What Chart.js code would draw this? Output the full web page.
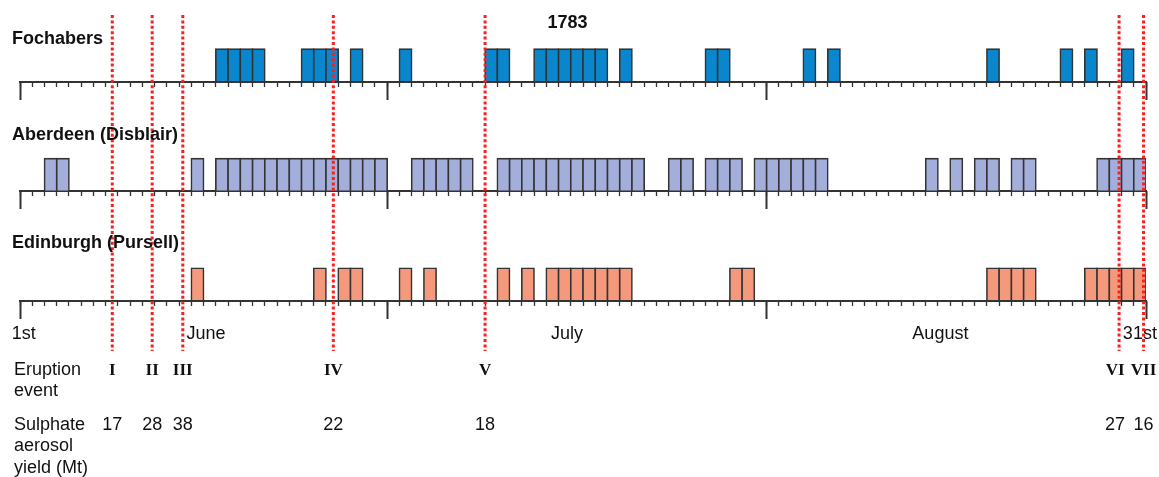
<!DOCTYPE html>
<html>
<head>
<meta charset="utf-8">
<script src="https://cdn.jsdelivr.net/npm/chart.js@4/dist/chart.umd.min.js"></script>
<style>
  html, body { margin: 0; padding: 0; background: #ffffff; }
  #wrap { position: relative; width: 1159px; height: 477px; }
  canvas { display: block; }
</style>
</head>
<body>
<div id="wrap"><canvas id="c" width="1159" height="477"></canvas></div>
<script>
// ---------------- data ----------------
const yearLabel = '1783';
const stations = ['Fochabers', 'Aberdeen (Disblair)', 'Edinburgh (Pursell)'];
const months = ['June', 'July', 'August'];
const monthLengths = [30, 31, 31];

// observed days (day of month) for each station
const fochabersJune   = [17, 18, 19, 20, 24, 25, 26, 28];
const fochabersJuly   = [2, 9, 10, 13, 14, 15, 16, 17, 18, 20, 27, 28];
const fochabersAugust = [4, 6, 19, 25, 27, 30];

const aberdeenJune   = [3, 4, 15, 17, 18, 19, 20, 21, 22, 23, 24, 25, 26, 27, 28, 29, 30];
const aberdeenJuly   = [3, 4, 5, 6, 7, 10, 11, 12, 13, 14, 15, 16, 17, 18, 19, 20, 21, 24, 25, 27, 28, 29, 31];
const aberdeenAugust = [1, 2, 3, 4, 5, 14, 16, 18, 19, 21, 22, 28, 29, 30, 31];

const edinburghJune   = [15, 25, 27, 28];
const edinburghJuly   = [2, 4, 10, 12, 14, 15, 16, 17, 18, 19, 20, 29, 30];
const edinburghAugust = [19, 20, 21, 22, 27, 28, 29, 30, 31];

// eruption events: time in days after 1 June
const eventLabels = ['I', 'II', 'III', 'IV', 'V', 'VI', 'VII'];
const eventDays = [7.54, 10.8, 13.3, 25.6, 38.0, 89.8, 91.8];
const sulphateYield = [17, 28, 38, 22, 18, 27, 16];

// bottom axis tick labels
const axisLabels = ['1st', 'June', 'July', 'August', '31st'];

// ---------------- layout / style (not data) ----------------
const axisLabelPos = [0.3, 15.2, 44.7, 75.2, 91.5];
const eventLabelNudge = [0, 0, 0, 0, 0, -4, 0];   // px shift of labels under the lines
const BAR_H = 0.297;
const COLORS = ['#0a86cd', '#a3aedb', '#f4997b'];
const EDGE = '#333333';
const SANS = '"Liberation Sans", Arial, sans-serif';
const SERIF = '"Liberation Serif", "Times New Roman", serif';

const TOTAL = monthLengths.reduce((a, b) => a + b, 0);
const monthStart = monthLengths.map((_, i) => monthLengths.slice(0, i).reduce((a, b) => a + b, 0));
const boundaries = [0].concat(monthLengths.map((_, i) => monthStart[i] + monthLengths[i]));

const stationMonths = [
  [fochabersJune, fochabersJuly, fochabersAugust],
  [aberdeenJune, aberdeenJuly, aberdeenAugust],
  [edinburghJune, edinburghJuly, edinburghAugust]
];

const datasets = stationMonths.map((byMonth, row) => {
  const pts = [];
  byMonth.forEach((days, m) => days.forEach(d => {
    pts.push({ x: monthStart[m] + d - 0.5, y: [row - BAR_H, row] });
  }));
  return {
    label: stations[row],
    data: pts,
    xAxisID: 'xd' + row,
    yAxisID: 'y',
    backgroundColor: COLORS[row],
    borderColor: EDGE,
    borderWidth: 1.6,
    inflateAmount: 0.8,
    borderSkipped: false,
    grouped: false,
    categoryPercentage: 1,
    barPercentage: 1
  };
});

function allDays() { const t = []; for (let v = 0; v <= TOTAL; v++) t.push({ value: v }); return t; }
function noPad(ax) { ax.paddingLeft = 0; ax.paddingRight = 0; ax.paddingTop = 0; ax.paddingBottom = 0; }

const scales = {
  y: { type: 'linear', display: false, reverse: true, min: -0.746, max: 3.61 }
};
for (let row = 0; row < 3; row++) {
  scales['xd' + row] = {
    type: 'linear', axis: 'x', min: 0, max: TOTAL, offset: false,
    position: { y: row },
    afterBuildTicks: ax => { ax.ticks = allDays(); },
    afterFit: noPad,
    ticks: { display: false },
    grid: { display: true, drawOnChartArea: false, drawTicks: true, offset: false,
            tickLength: 4, tickWidth: 1.3, tickColor: EDGE },
    border: { display: true, color: EDGE, width: 2 }
  };
  scales['xm' + row] = {
    type: 'linear', axis: 'x', min: 0, max: TOTAL, offset: false,
    position: { y: row },
    afterBuildTicks: ax => { ax.ticks = boundaries.map(v => ({ value: v })); },
    afterFit: noPad,
    ticks: { display: false },
    grid: { display: true, drawOnChartArea: false, drawTicks: true, offset: false,
            tickLength: 18, tickWidth: 2, tickColor: EDGE },
    border: { display: false }
  };
}
scales.xl = {
  type: 'linear', axis: 'x', min: 0, max: TOTAL, offset: false,
  position: { y: 2 },
  afterBuildTicks: ax => { ax.ticks = axisLabelPos.map(v => ({ value: v })); },
  afterFit: noPad,
  ticks: {
    display: true, autoSkip: false, maxRotation: 0, minRotation: 0, padding: 15,
    color: '#111', font: { family: SANS, size: 18 },
    callback: (v, i) => axisLabels[i]
  },
  grid: { display: false },
  border: { display: false }
};

const annotations = {
  id: 'annotations',
  afterDatasetsDraw(chart) {
    const ctx = chart.ctx;
    const xs = chart.scales.xd0;
    ctx.save();
    // eruption lines
    ctx.strokeStyle = '#ff1e1e';
    ctx.lineWidth = 3;
    ctx.setLineDash([3, 2.4]);
    eventDays.forEach(d => {
      const x = xs.getPixelForValue(d);
      ctx.beginPath(); ctx.moveTo(x, 15); ctx.lineTo(x, 351); ctx.stroke();
    });
    ctx.setLineDash([]);

    ctx.fillStyle = '#111';
    ctx.textBaseline = 'alphabetic';
    // year
    ctx.font = 'bold 18px ' + SANS;
    ctx.textAlign = 'center';
    ctx.fillText(yearLabel, 567.5, 27.5);
    // station titles
    ctx.textAlign = 'left';
    const titleBase = [44.3, 140.3, 247.5];
    stations.forEach((s, i) => ctx.fillText(s, 12, titleBase[i]));

    // bottom table
    ctx.font = '18px ' + SANS;
    ctx.fillText('Eruption', 14, 374.5);
    ctx.fillText('event', 14, 395.5);
    ctx.fillText('Sulphate', 14, 429.5);
    ctx.fillText('aerosol', 14, 451);
    ctx.fillText('yield (Mt)', 14, 472.5);

    ctx.textAlign = 'center';
    ctx.font = 'bold 17px ' + SERIF;
    eventDays.forEach((d, i) => ctx.fillText(eventLabels[i], xs.getPixelForValue(d) + eventLabelNudge[i], 374.5));
    ctx.font = '18px ' + SANS;
    eventDays.forEach((d, i) => ctx.fillText(String(sulphateYield[i]), xs.getPixelForValue(d) + eventLabelNudge[i], 429.5));
    ctx.restore();
  }
};

new Chart(document.getElementById('c'), {
  type: 'bar',
  data: { datasets },
  options: {
    responsive: false,
    animation: false,
    devicePixelRatio: 1,
    layout: { padding: { left: 20, right: 13, top: 0, bottom: 0 } },
    plugins: { legend: { display: false }, tooltip: { enabled: false }, title: { display: false } },
    scales
  },
  plugins: [annotations]
});
</script>
</body>
</html>
